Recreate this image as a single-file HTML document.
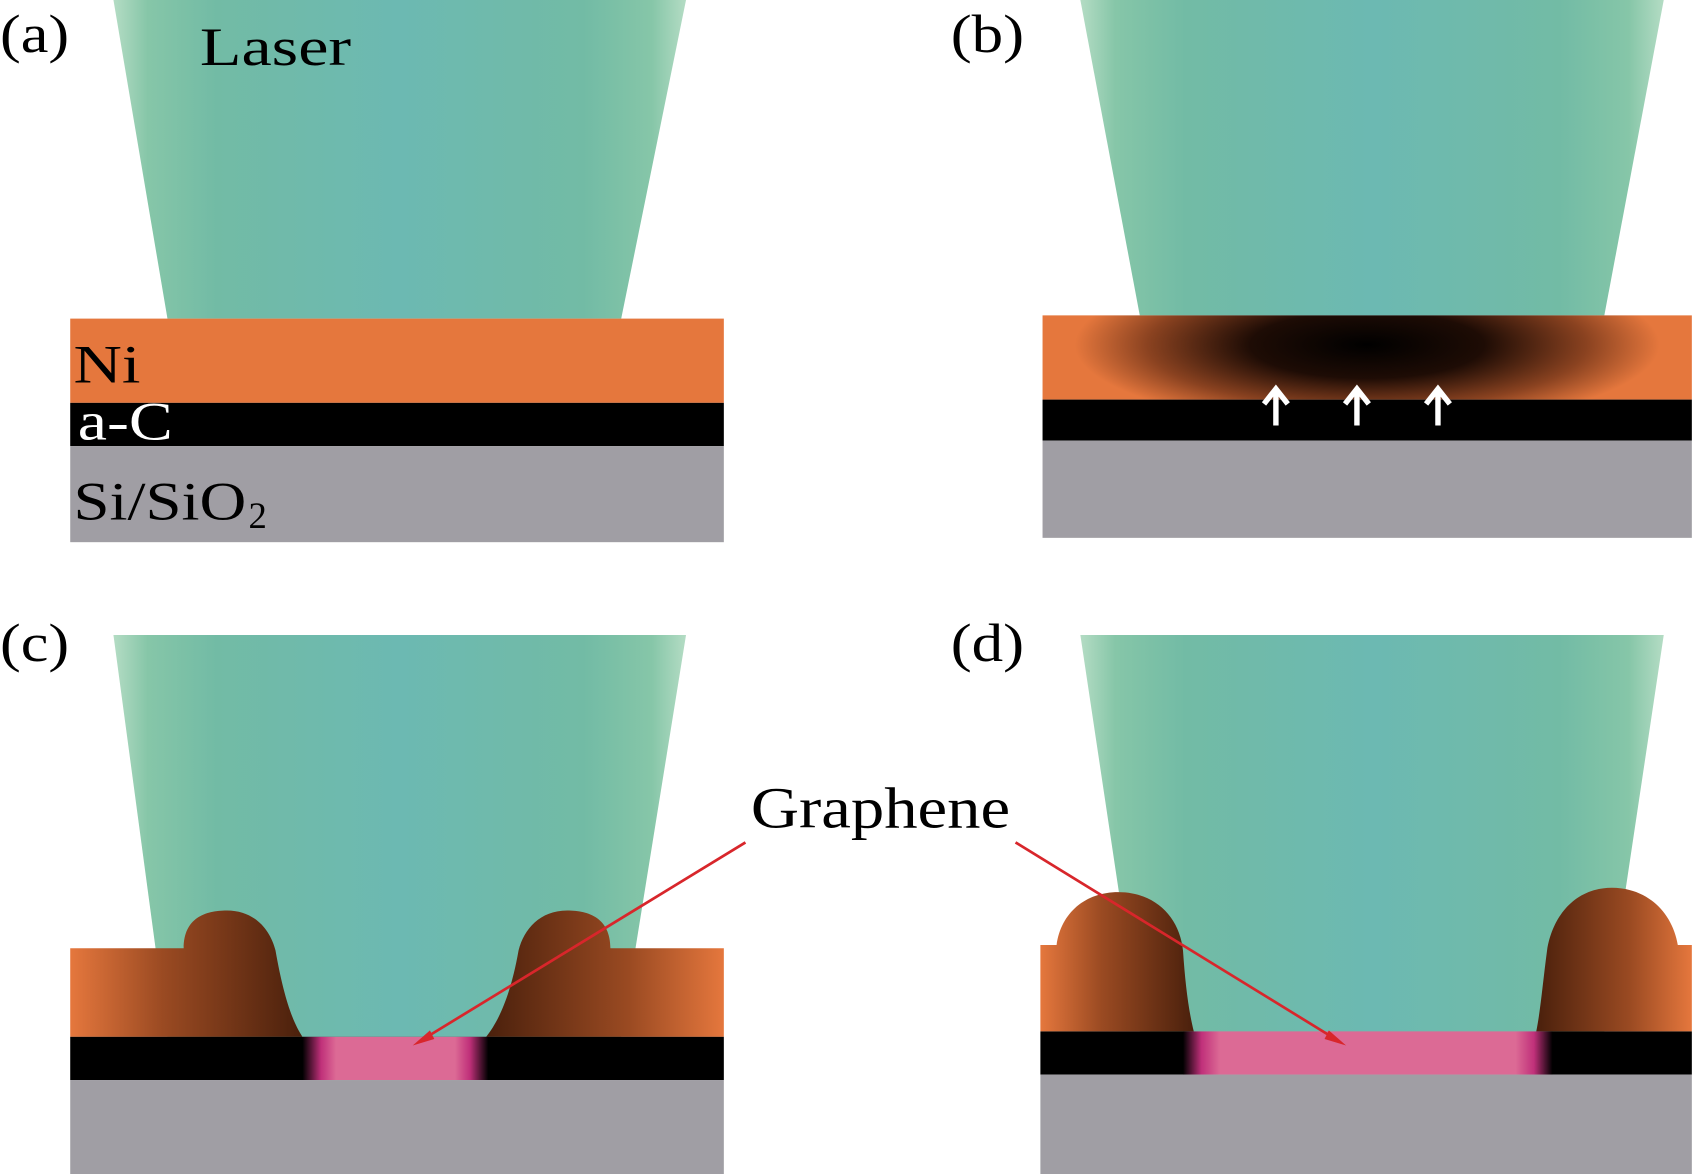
<!DOCTYPE html>
<html><head><meta charset="utf-8"><style>html,body{margin:0;padding:0;background:#fff}svg{display:block}</style></head><body>
<svg width="1694" height="1174" viewBox="0 0 1568 1087" preserveAspectRatio="none" xmlns="http://www.w3.org/2000/svg">
<defs>
<linearGradient id="las" x1="0" x2="1" y1="0" y2="0">
<stop offset="0" stop-color="#b4dcc4"/><stop offset="0.06" stop-color="#86c6a8"/><stop offset="0.18" stop-color="#72bba5"/><stop offset="0.5" stop-color="#6cb9b2"/><stop offset="0.82" stop-color="#72bba5"/><stop offset="0.94" stop-color="#86c6a8"/><stop offset="1" stop-color="#b4dcc4"/></linearGradient>
<radialGradient id="heat" cx="0.5" cy="0.35" r="0.45" gradientTransform="translate(0.5 0.35) scale(1 2.2) translate(-0.5 -0.35)">
<stop offset="0" stop-color="#000"/><stop offset="0.4" stop-color="#1e0c05"/><stop offset="0.75" stop-color="#8a4220"/><stop offset="1" stop-color="#e5773d"/></radialGradient>
<linearGradient id="bumpL" x1="1" x2="0" y1="0" y2="0"><stop offset="0" stop-color="#4a200c"/><stop offset="0.6" stop-color="#9a4a22"/><stop offset="1" stop-color="#e5773d"/></linearGradient>
<linearGradient id="bumpR" x1="0" x2="1" y1="0" y2="0"><stop offset="0" stop-color="#4a200c"/><stop offset="0.6" stop-color="#9a4a22"/><stop offset="1" stop-color="#e5773d"/></linearGradient>
<linearGradient id="pinkC" x1="0" x2="1"><stop offset="0" stop-color="#000"/><stop offset="0.1" stop-color="#c0307a"/><stop offset="0.18" stop-color="#dc6a95"/><stop offset="0.82" stop-color="#dc6a95"/><stop offset="0.9" stop-color="#c0307a"/><stop offset="1" stop-color="#000"/></linearGradient>
<linearGradient id="pinkD" x1="0" x2="1"><stop offset="0" stop-color="#000"/><stop offset="0.05" stop-color="#c0307a"/><stop offset="0.1" stop-color="#dc6a95"/><stop offset="0.9" stop-color="#dc6a95"/><stop offset="0.95" stop-color="#c0307a"/><stop offset="1" stop-color="#000"/></linearGradient>
</defs>
<g font-family="Liberation Serif, serif" font-size="50">
<!-- (a) -->
<polygon points="105,0 635,0 575,295 155,295" fill="url(#las)"/>
<rect x="65" y="295" width="605" height="78" fill="#e5773d"/>
<rect x="65" y="373" width="605" height="40" fill="#000"/>
<rect x="65" y="413" width="605" height="89" fill="#a09ea4"/>
<text x="0" y="48" textLength="64" lengthAdjust="spacingAndGlyphs">(a)</text>
<text x="185" y="60" textLength="140" lengthAdjust="spacingAndGlyphs">Laser</text>
<text x="68" y="354" textLength="62" lengthAdjust="spacingAndGlyphs">Ni</text>
<text x="72" y="407" fill="#fff" textLength="88" lengthAdjust="spacingAndGlyphs">a-C</text>
<text x="68" y="481" textLength="160" lengthAdjust="spacingAndGlyphs">Si/SiO</text><text x="230" y="489" font-size="34">2</text>
<!-- (b) -->
<polygon points="1000,0 1540,0 1485,292 1055,292" fill="url(#las)"/>
<rect x="965" y="292" width="601" height="78" fill="url(#heat)"/>
<rect x="965" y="370" width="601" height="38" fill="#000"/>
<rect x="965" y="408" width="601" height="90" fill="#a09ea4"/>
<text x="880" y="48" textLength="68" lengthAdjust="spacingAndGlyphs">(b)</text>
<g stroke="#fff" stroke-width="5" fill="none">
<path d="M1181,394 V362 M1170,374 L1181,360 L1192,374"/>
<path d="M1256,394 V362 M1245,374 L1256,360 L1267,374"/>
<path d="M1331,394 V362 M1320,374 L1331,360 L1342,374"/>
</g>
<!-- (c) -->
<polygon points="105,588 635,588 575,960 155,960" fill="url(#las)"/>
<path d="M65,878 H170 C170,850 190,843 210,843 C235,843 250,860 255,880 C262,920 270,945 280,960 H65 Z" fill="url(#bumpL)"/>
<path d="M670,878 H565 C565,850 545,843 525,843 C500,843 485,860 480,880 C473,920 462,945 450,960 H670 Z" fill="url(#bumpR)"/>
<rect x="65" y="960" width="605" height="40" fill="#000"/>
<rect x="280" y="960" width="172" height="40" fill="url(#pinkC)"/>
<rect x="65" y="1000" width="605" height="87" fill="#a09ea4"/>
<text x="0" y="612" textLength="64" lengthAdjust="spacingAndGlyphs">(c)</text>
<!-- (d) -->
<polygon points="1000,588 1540,588 1485,955 1055,955" fill="url(#las)"/>
<path d="M963,955 V875 H978 C982,845 1005,826 1035,826 C1070,826 1092,850 1095,880 C1097,910 1100,935 1105,955 Z" fill="url(#bumpL)"/>
<path d="M1566,955 V875 H1553 C1548,845 1525,822 1492,822 C1458,822 1437,848 1432,880 C1428,910 1426,935 1422,955 Z" fill="url(#bumpR)"/>
<rect x="963" y="955" width="603" height="40" fill="#000"/>
<rect x="1095" y="955" width="342" height="40" fill="url(#pinkD)"/>
<rect x="963" y="995" width="603" height="92" fill="#a09ea4"/>
<text x="880" y="612" textLength="68" lengthAdjust="spacingAndGlyphs">(d)</text>
<!-- Graphene -->
<text x="695" y="766" font-size="54" textLength="240" lengthAdjust="spacingAndGlyphs">Graphene</text>
<g stroke="#d8262b" stroke-width="2.5" fill="#d8262b">
<line x1="690" y1="780" x2="392" y2="962"/>
<polygon points="382,968 398,954 402,962" stroke="none"/>
<line x1="940" y1="780" x2="1236" y2="962"/>
<polygon points="1246,968 1230,954 1226,962" stroke="none"/>
</g>
</g>
</svg>
</body></html>
